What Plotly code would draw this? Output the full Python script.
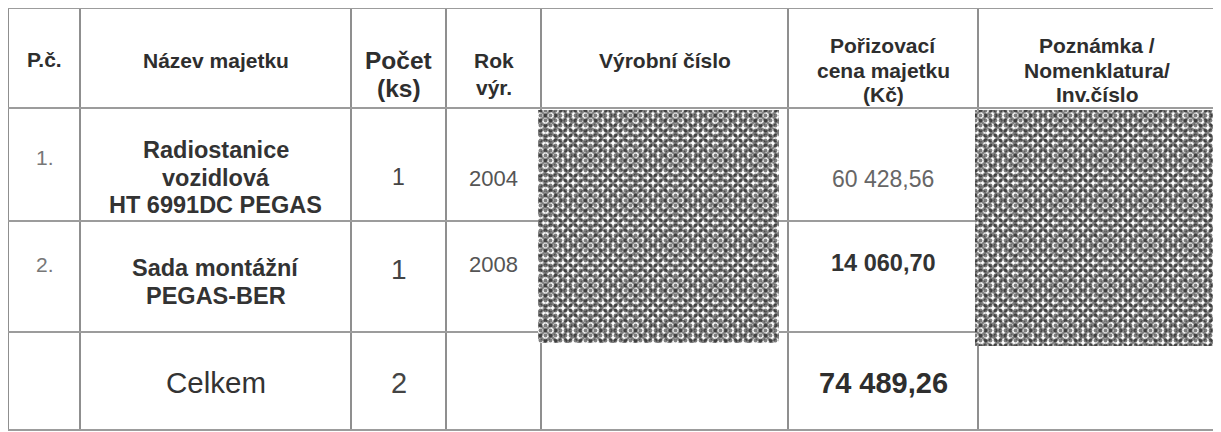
import plotly.graph_objects as go

# ---------------- data ----------------
headers = ["P.č.", "Název majetku", "Počet<br>(ks)", "Rok<br>výr.", "Výrobní číslo",
           "Pořizovací<br>cena majetku<br>(Kč)", "Poznámka /<br>Nomenklatura/<br>Inv.číslo"]
row_numbers = ["1.", "2."]
asset_names = ["Radiostanice<br>vozidlová<br>HT 6991DC PEGAS", "Sada montážní<br>PEGAS-BER"]
counts = [1, 1]
years = [2004, 2008]
prices = [60428.56, 14060.70]
total_label = "Celkem"
total_count = 2
total_price = 74489.26

# ---------------- layout geometry (page pixels) ----------------
W, H = 1221, 432
BODY = 8  # default page margin of the browser
col_edges = [8, 80, 351, 446, 541, 788, 978, 1216]
row_edges = [8, 108, 221, 332, 430]
FONT = "Liberation Sans, Arial, sans-serif"


def czk(v):
    return f"{v:,.2f}".replace(",", " ").replace(".", ",")


def cx(c):
    return (col_edges[c] + col_edges[c + 1]) / 2


def ry(r, frac=0.5):
    return row_edges[r] + frac * (row_edges[r + 1] - row_edges[r])


fig = go.Figure()

# grid lines
for x in col_edges:
    fig.add_shape(type="line", x0=x, x1=x, y0=row_edges[0], y1=row_edges[-1],
                  xref="x", yref="y", layer="below", line=dict(color="#6a6a6a", width=1.5))
for y in row_edges:
    fig.add_shape(type="line", x0=col_edges[0], x1=col_edges[-1], y0=y, y1=y,
                  xref="x", yref="y", layer="below", line=dict(color="#9c9c9c", width=1.8))

# redacted blocks (serial number and note columns, rows 1-2)
for c, dl, dr, db in [(4, -3, -9, 11), (6, -3, 0, 14)]:
    x0, x1 = col_edges[c] + dl, col_edges[c + 1] + dr
    y0, y1 = row_edges[1] + 2, row_edges[3] + db
    xs, ys = [x0, x1, x1, x0, x0], [y0, y0, y1, y1, y0]
    fig.add_trace(go.Scatter(x=xs, y=ys, fill="toself", mode="none", hoverinfo="skip",
                             fillpattern=dict(shape="x", fgcolor="#000000", bgcolor="#ffffff",
                                              size=8, solidity=0.55),
                             showlegend=False))
    fig.add_trace(go.Scatter(x=xs, y=ys, fill="toself", mode="none", hoverinfo="skip",
                             fillpattern=dict(shape=".", fgcolor="#000000", bgcolor="rgba(0,0,0,0)",
                                              size=5, solidity=0.45),
                             showlegend=False))


def txt(x, y, s, size, color="#333333", weight="normal", xanchor="center", pitch=None):
    lines = s.split("<br>")
    pitch = pitch if pitch is not None else 1.2 * size
    top = y - pitch * (len(lines) - 1) / 2
    for k, line in enumerate(lines):
        fig.add_annotation(x=x, y=top + k * pitch, xref="x", yref="y", text=line,
                           showarrow=False, xanchor=xanchor, yanchor="middle", align="center",
                           font=dict(family=FONT, size=size, color=color, weight=weight))


# header row (vertical position as fraction of the header height)
header_fracs = [0.51, 0.52, 0.66, 0.655, 0.52, 0.62, 0.62]
header_pitch = [27, 27, 28, 27, 27, 24.5, 24.5]
header_sizes = [21, 21, 24.5, 21, 21, 21, 21]
for c, h in enumerate(headers):
    txt(cx(c), ry(0, header_fracs[c]), h, header_sizes[c], "#2e2e2e", "bold",
        pitch=header_pitch[c])

# body rows
num_fracs = [0.44, 0.39]
name_fracs = [0.615, 0.55]
name_pitch = [27.5, 28]
count_sizes = [23, 28]
count_fracs = [0.61, 0.44]
year_fracs = [0.62, 0.39]
price_styles = [(23, "#666666", "normal", 0.63), (23.5, "#333333", "bold", 0.38)]
for i in range(len(asset_names)):
    r = i + 1
    txt(col_edges[0] + 26, ry(r, num_fracs[i]), row_numbers[i], 21, "#777777", xanchor="left")
    txt(cx(1), ry(r, name_fracs[i]), asset_names[i], 23.5, "#333333", "bold", pitch=name_pitch[i])
    txt(cx(2), ry(r, count_fracs[i]), str(counts[i]), count_sizes[i], "#444444")
    txt(cx(3), ry(r, year_fracs[i]), str(years[i]), 22, "#555555")
    ps, pc, pw, pf = price_styles[i]
    txt(cx(5), ry(r, pf), czk(prices[i]), ps, pc, pw)

# total row
txt(cx(1), ry(3, 0.52), total_label, 29.5, "#333333")
txt(cx(2), ry(3, 0.52), str(total_count), 29, "#444444")
txt(cx(5), ry(3, 0.52), czk(total_price), 29, "#2e2e2e", "bold")

fig.update_xaxes(range=[BODY, W], visible=False, fixedrange=True)
fig.update_yaxes(range=[H, BODY], visible=False, fixedrange=True)
fig.update_layout(width=W - BODY, height=H - BODY, autosize=False,
                  margin=dict(l=0, r=0, t=0, b=0),
                  paper_bgcolor="white", plot_bgcolor="white", showlegend=False)

fig.write_html("out.html")
